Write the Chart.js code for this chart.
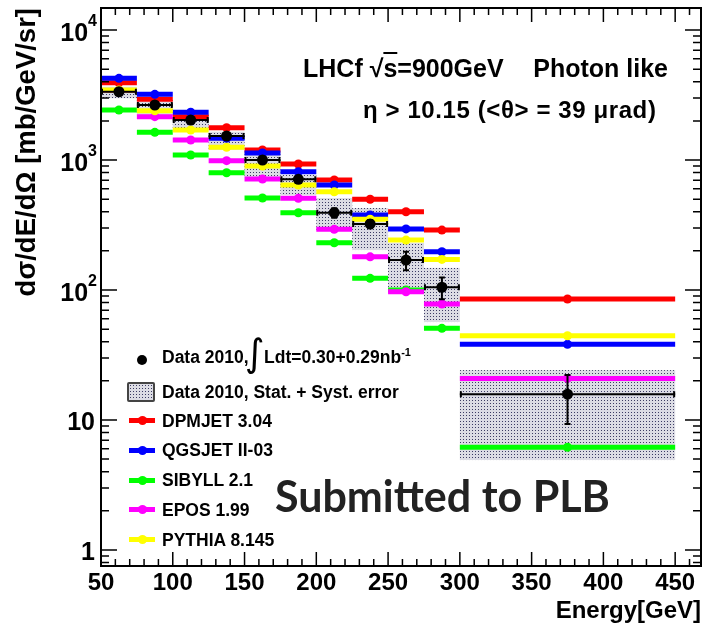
<!DOCTYPE html>
<html>
<head>
<meta charset="utf-8">
<script src="https://cdn.jsdelivr.net/npm/chart.js@4.4.1/dist/chart.umd.min.js"></script>
<style>
  html, body { margin: 0; padding: 0; background: #fff; }
  #wrap { position: relative; width: 705px; height: 626px; font-family: "Liberation Sans", Arial, sans-serif; font-weight: bold; color: #000; }
  #wrap canvas { position: absolute; left: 0; top: 0; }
  .txt { position: absolute; white-space: pre; line-height: 1; z-index: 2; }
  .lg { font-size: 17.5px; left: 162px; }
  .mk { position: absolute; z-index: 2; }
  .mline { left: 129px; width: 26px; height: 5px; }
  .mdot { left: 137.5px; width: 9px; height: 9px; border-radius: 50%; }
</style>
</head>
<body>
<div id="wrap">
  <canvas id="lhcfChart" width="705" height="626"></canvas>

  <!-- anotaciones -->
  <div class="txt" style="left:303px; top:56px; font-size:25px;">LHCf √<span style="text-decoration:overline">s</span>=900GeV</div>
  <div class="txt" style="right:37px; top:56px; font-size:25px;">Photon like</div>
  <div class="txt" style="left:363px; top:98px; font-size:24px; letter-spacing:0.6px;">η &gt; 10.15 (&lt;θ&gt; = 39 μrad)</div>
  <div class="txt" style="left:275px; top:474px; font-size:43px; font-family:Lato, 'Open Sans', sans-serif; color:#222;">Submitted to PLB</div>

  <!-- leyenda -->
  <div class="mk" style="left:137px; top:355px; width:10px; height:10px; border-radius:50%; background:#000;"></div>
  <div class="txt lg" style="top:348.5px;">Data 2010,</div>
  <div class="txt" style="left:245px; top:334px; font-size:38px; font-weight:normal; font-family:'DejaVu Sans';">∫</div>
  <div class="txt lg" style="left:264px; top:348.5px;">Ldt=0.30+0.29nb<span style="font-size:11px; position:relative; top:-7px;">-1</span></div>

  <div class="mk" style="left:127px; top:382px; width:24px; height:16px; border:2px solid #444; border-radius:2px; background-color:#dcdce4; background-image:radial-gradient(#3c3c64 0.7px, transparent 1px); background-size:3px 3px;"></div>
  <div class="txt lg" style="top:383.5px;">Data 2010, Stat. + Syst. error</div>

  <div class="mk mline" style="top:418px; background:#ff0000;"></div>
  <div class="mk mdot" style="top:416px; background:#ff0000;"></div>
  <div class="txt lg" style="top:412.5px;">DPMJET 3.04</div>

  <div class="mk mline" style="top:447.5px; background:#0000ff;"></div>
  <div class="mk mdot" style="top:445.5px; background:#0000ff;"></div>
  <div class="txt lg" style="top:441.5px;">QGSJET II-03</div>

  <div class="mk mline" style="top:477.5px; background:#00ff00;"></div>
  <div class="mk mdot" style="top:475.5px; background:#00ff00;"></div>
  <div class="txt lg" style="top:471.5px;">SIBYLL 2.1</div>

  <div class="mk mline" style="top:506.5px; background:#ff00ff;"></div>
  <div class="mk mdot" style="top:504.5px; background:#ff00ff;"></div>
  <div class="txt lg" style="top:501.5px;">EPOS 1.99</div>

  <div class="mk mline" style="top:536.5px; background:#ffff00;"></div>
  <div class="mk mdot" style="top:534.5px; background:#ffff00;"></div>
  <div class="txt lg" style="top:531.5px;">PYTHIA 8.145</div>
</div>

<script>
// Datos (LHCf, fotones, eta > 10.15)
const binEdges = [50, 75, 100, 125, 150, 175, 200, 225, 250, 275, 300, 450];

const dataValues = [3350, 2650, 2030, 1530, 1000, 711, 393, 322, 170, 105, 15.8];
const statLow    = [3290, 2600, 1990, 1500, 975, 690, 360, 298, 142, 85, 9.3];
const statHigh   = [3410, 2700, 2070, 1560, 1025, 732, 425, 345, 197, 125, 22.2];
const systLow    = [2985, 2220, 1763, 1194, 740, 538, 290, 203, 97, 56.7, 4.92];
const systHigh   = [3661, 2895, 2220, 1651, 1152, 767, 510, 427, 230, 148, 24.2];

const dpmjet = [3935, 2930, 2154, 1774, 1194, 932, 702, 499, 400, 289, 85.3];
const qgsjet = [4249, 3200, 2328, 1468, 1132, 813, 642, 378, 295, 197, 38.2];
const sibyll = [2424, 1633, 1092, 798, 510, 393, 231, 123, 100, 50.7, 6.17];
const epos   = [3420, 2154, 1425, 988, 714, 507, 293, 180, 97, 78, 20.9];
const pythia = [3450, 2395, 1701, 1253, 899, 642, 570, 350, 242, 172, 44.5];

const xMajorTicks = [50, 100, 150, 200, 250, 300, 350, 400, 450];
const xMinorStep = 10;
const yDecades = [1, 10, 100, 1000, 10000];

// Construir puntos escalonados (un tramo horizontal por bin, marcador al centro)
function stepPoints(values) {
    const pts = [];
    values.forEach((v, i) => {
        pts.push({ x: binEdges[i], y: v });
        pts.push({ x: (binEdges[i] + binEdges[i + 1]) / 2, y: v });
        pts.push({ x: binEdges[i + 1], y: v });
        pts.push({ x: binEdges[i + 1], y: null });
    });
    return pts;
}

function modelDataset(label, values, color, order, width) {
    return {
        label: label,
        data: stepPoints(values),
        borderColor: color,
        backgroundColor: color,
        borderWidth: width,
        borderCapStyle: 'butt',
        pointRadius: ctx => (ctx.dataIndex % 4 === 1 ? 4.5 : 0),
        pointBackgroundColor: color,
        pointBorderWidth: 0,
        spanGaps: false,
        tension: 0,
        order: order
    };
}

// Patrón punteado para la banda de error sistemático
function makePattern() {
    const c = document.createElement('canvas');
    c.width = 3; c.height = 3;
    const g = c.getContext('2d');
    g.fillStyle = '#dcdce4';
    g.fillRect(0, 0, 3, 3);
    g.fillStyle = '#3c3c64';
    g.fillRect(1, 1, 1, 1);
    return g.createPattern(c, 'repeat');
}
const boxPattern = makePattern();

function line(ctx, x0, y0, x1, y1) {
    ctx.moveTo(x0, y0);
    ctx.lineTo(x1, y1);
}

// Plugin: cajas de error, barras de error, marco estilo ROOT y etiquetas del eje Y
const rootStyle = {
    id: 'rootStyle',
    beforeDatasetsDraw(chart) {
        const { ctx, scales: { x, y } } = chart;
        ctx.save();
        ctx.fillStyle = boxPattern;
        systLow.forEach((lo, i) => {
            const x0 = x.getPixelForValue(binEdges[i]);
            const x1 = x.getPixelForValue(binEdges[i + 1]);
            const y0 = y.getPixelForValue(systHigh[i]);
            const y1 = y.getPixelForValue(lo);
            ctx.fillRect(x0, y0, x1 - x0, y1 - y0);
        });
        ctx.restore();
    },
    afterDatasetsDraw(chart) {
        const { ctx, scales: { x, y } } = chart;
        ctx.save();
        ctx.strokeStyle = '#000';
        ctx.lineWidth = 2;
        ctx.beginPath();
        dataValues.forEach((v, i) => {
            const cx = x.getPixelForValue((binEdges[i] + binEdges[i + 1]) / 2);
            const yh = y.getPixelForValue(statHigh[i]);
            const yl = y.getPixelForValue(statLow[i]);
            line(ctx, cx, yh, cx, yl);
            line(ctx, cx - 3, yh, cx + 3, yh);
            line(ctx, cx - 3, yl, cx + 3, yl);
            const x0 = x.getPixelForValue(binEdges[i]) + 1;
            const x1 = x.getPixelForValue(binEdges[i + 1]) - 1;
            const yc = y.getPixelForValue(v);
            line(ctx, x0, yc - 3, x0, yc + 3);
            line(ctx, x1, yc - 3, x1, yc + 3);
        });
        ctx.stroke();
        ctx.restore();
    },
    afterDraw(chart) {
        const { ctx, chartArea: a, scales: { x, y } } = chart;
        ctx.save();
        ctx.strokeStyle = '#000';
        ctx.lineWidth = 1.5;
        ctx.beginPath();
        // marcas del eje X (hacia dentro, arriba y abajo)
        for (let v = x.min; v <= x.max; v += xMinorStep) {
            const px = x.getPixelForValue(v);
            const len = xMajorTicks.includes(v) ? 14 : 7;
            line(ctx, px, a.bottom, px, a.bottom - len);
            line(ctx, px, a.top, px, a.top + len);
        }
        // marcas del eje Y logarítmico
        for (let e = -1; e <= 4; e++) {
            for (let m = 1; m <= 9; m++) {
                const v = m * Math.pow(10, e);
                if (v < y.min || v > y.max) continue;
                const py = y.getPixelForValue(v);
                const len = m === 1 ? 16 : 8;
                line(ctx, a.left, py, a.left + len, py);
                line(ctx, a.right, py, a.right - len, py);
            }
        }
        ctx.stroke();
        // marco
        ctx.lineWidth = 2;
        ctx.strokeRect(a.left, a.top, a.right - a.left, a.bottom - a.top);

        // etiquetas 1, 10, 10^2 ...
        ctx.fillStyle = '#000';
        ctx.textBaseline = 'middle';
        ctx.textAlign = 'right';
        yDecades.forEach(v => {
            const py = y.getPixelForValue(v);
            const exp = Math.round(Math.log10(v));
            if (exp <= 1) {
                ctx.font = 'bold 25px "Liberation Sans", Arial, sans-serif';
                ctx.fillText(String(v), 95, py + 3);
            } else {
                ctx.font = 'bold 16px "Liberation Sans", Arial, sans-serif';
                const supW = ctx.measureText(String(exp)).width;
                ctx.fillText(String(exp), 97, py - 8);
                ctx.font = 'bold 25px "Liberation Sans", Arial, sans-serif';
                ctx.fillText('10', 97 - supW, py + 4);
            }
        });
        ctx.restore();
    }
};

document.addEventListener('DOMContentLoaded', function() {
    const ctx = document.getElementById('lhcfChart');
    Chart.defaults.color = '#000';
    Chart.defaults.font.family = '"Liberation Sans", Arial, sans-serif';

    const dataSet = {
        label: 'Data 2010',
        data: stepPoints(dataValues),
        borderColor: '#000',
        backgroundColor: '#000',
        borderWidth: 2,
        borderCapStyle: 'butt',
        pointRadius: c => (c.dataIndex % 4 === 1 ? 5.5 : 0),
        pointBackgroundColor: '#000',
        pointBorderWidth: 0,
        spanGaps: false,
        order: 0
    };

    new Chart(ctx, {
        type: 'line',
        data: {
            datasets: [
                dataSet,
                modelDataset('PYTHIA 8.145', pythia, '#ffff00', 1, 5),
                modelDataset('EPOS 1.99', epos, '#ff00ff', 2, 5),
                modelDataset('SIBYLL 2.1', sibyll, '#00ff00', 3, 5),
                modelDataset('QGSJET II-03', qgsjet, '#0000ff', 4, 5),
                modelDataset('DPMJET 3.04', dpmjet, '#ff0000', 5, 5)
            ]
        },
        options: {
            responsive: false,
            animation: false,
            events: [],
            layout: { padding: { top: 8, right: 4, left: 0, bottom: 0 } },
            plugins: {
                legend: { display: false },
                tooltip: { enabled: false }
            },
            scales: {
                x: {
                    type: 'linear',
                    min: 50,
                    max: 468,
                    afterBuildTicks: s => { s.ticks = xMajorTicks.map(v => ({ value: v })); },
                    afterFit: s => { s.height = 60; },
                    ticks: {
                        font: { size: 24, weight: 'bold' },
                        padding: 3,
                        maxRotation: 0,
                        autoSkip: false
                    },
                    grid: { display: false, drawTicks: false },
                    border: { display: false },
                    title: {
                        display: true,
                        text: 'Energy[GeV]',
                        align: 'end',
                        font: { size: 24, weight: 'bold' },
                        padding: { top: 2, bottom: 0 }
                    }
                },
                y: {
                    type: 'logarithmic',
                    min: 0.753,
                    max: 14770,
                    afterBuildTicks: s => { s.ticks = yDecades.map(v => ({ value: v })); },
                    afterFit: s => { s.width = 101; },
                    ticks: { display: false },
                    grid: { display: false, drawTicks: false },
                    border: { display: false },
                    title: {
                        display: true,
                        text: 'dσ/dE/dΩ [mb/GeV/sr]',
                        align: 'end',
                        font: { size: 27.5, weight: 'bold' },
                        padding: { top: 11, bottom: 0 }
                    }
                }
            }
        },
        plugins: [rootStyle]
    });
});
</script>
</body>
</html>
